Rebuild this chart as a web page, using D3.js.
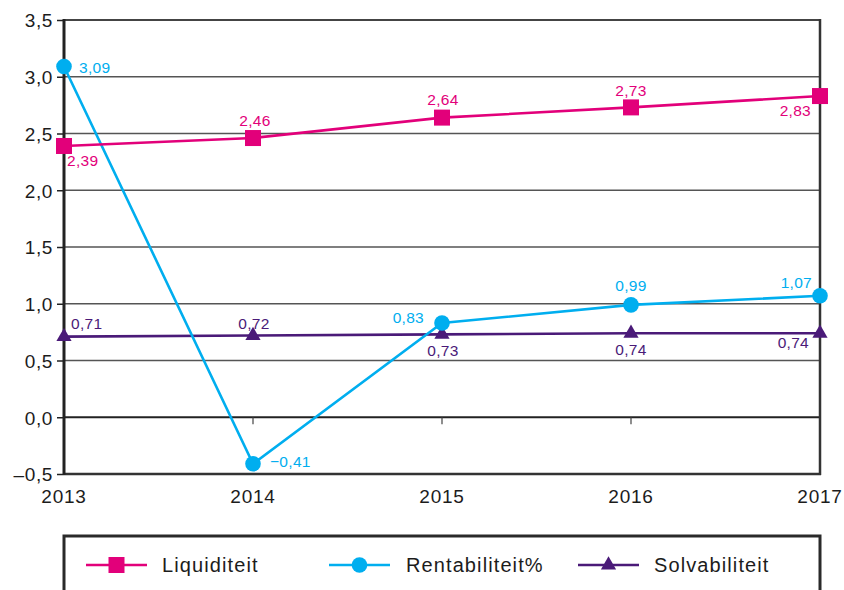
<!DOCTYPE html>
<html><head><meta charset="utf-8">
<script src="https://cdn.jsdelivr.net/npm/d3@7"></script>
<style>body{margin:0;background:#fff}svg{display:block;font-family:"Liberation Sans",Arial,sans-serif}</style>
</head><body>
<svg id="c" width="844" height="590"></svg>
<script>
const years = ["2013","2014","2015","2016","2017"];
const liquiditeit = [2.39, 2.46, 2.64, 2.73, 2.83];
const rentabiliteit = [3.09, -0.41, 0.83, 0.99, 1.07];
const solvabiliteit = [0.71, 0.72, 0.73, 0.74, 0.74];
const yTicks = [-0.5, 0, 0.5, 1.0, 1.5, 2.0, 2.5, 3.0, 3.5];
const seriesNames = ["Liquiditeit", "Rentabiliteit%", "Solvabiliteit"];

// label placement (anchor, dx, dy) per point
const liqPlace = [["start",3,20],["middle",2,-12],["middle",1,-13],["middle",0,-11],["end",-9,20]];
const renPlace = [["start",15,6],["start",17,3],["end",-18,0],["middle",0,-14],["end",-8,-8]];
const solPlace = [["start",7,-8],["middle",1,-7],["middle",1,22],["middle",0,22],["end",-11,15]];

const fmt = v => (v < 0 ? "\u2212" : "") + Math.abs(v).toFixed(2).replace(".", ",");
const fmtTick = v => (v < 0 ? "\u2013" : "") + Math.abs(v).toFixed(1).replace(".", ",");

const svg = d3.select("#c");
const FONT = '"Liberation Sans", Arial, sans-serif';
const L = 64, R = 820, T = 20, B = 474;
const x = d3.scalePoint().domain(years).range([L, R]);
const y = d3.scaleLinear().domain([-0.5, 3.5]).range([B, T]);

const colors = {liq:"#e2007a", ren:"#00aeef", sol:"#4a1a78"};

// gridlines
svg.append("g").selectAll("line").data(yTicks.filter(t => t !== 0 && t !== -0.5 && t !== 3.5)).join("line")
  .attr("x1", L).attr("x2", R).attr("y1", d => y(d)).attr("y2", d => y(d))
  .attr("stroke", "#555").attr("stroke-width", 1.5);
// top border
svg.append("line").attr("x1", L).attr("x2", R).attr("y1", y(3.5)).attr("y2", y(3.5)).attr("stroke","#444").attr("stroke-width",2);
// zero line
svg.append("line").attr("x1", L).attr("x2", R).attr("y1", y(0)).attr("y2", y(0)).attr("stroke","#222").attr("stroke-width",2);
// bottom
svg.append("line").attr("x1", L).attr("x2", R+1).attr("y1", y(-0.5)).attr("y2", y(-0.5)).attr("stroke","#333").attr("stroke-width",2.5);
// right border
svg.append("line").attr("x1", R).attr("x2", R).attr("y1", T-1).attr("y2", B+1).attr("stroke","#333").attr("stroke-width",2.5);

// y axis
const yAxis = d3.axisLeft(y).tickValues(yTicks).tickFormat(fmtTick).tickSize(7).tickPadding(4);
const ya = svg.append("g").attr("transform", `translate(${L},0)`).call(yAxis).attr("font-family", FONT);
ya.select(".domain").attr("stroke","#222").attr("stroke-width",3).attr("d", `M0,${T-1}V${B+1}`);
ya.selectAll(".tick line").attr("stroke","#222").attr("stroke-width",1.5);
ya.selectAll(".tick text").attr("fill","#1c1c1c").style("font-size","19px").style("letter-spacing","0.6px").attr("dy","0.36em");

// x tick marks at zero line
svg.append("g").selectAll("line").data(years.slice(1, -1)).join("line")
  .attr("x1", d => x(d)).attr("x2", d => x(d)).attr("y1", y(0)).attr("y2", y(0) + 7)
  .attr("stroke", "#444").attr("stroke-width", 1.2);

// x labels
svg.append("g").selectAll("text").data(years).join("text")
  .attr("x", d => x(d)).attr("y", 503).attr("text-anchor","middle")
  .attr("fill","#1c1c1c").style("font-size","19px").style("letter-spacing","0.8px").text(d => d);

const line = d3.line().x((d,i) => x(years[i])).y(d => y(d));

function drawSeries(vals, color, place, marker) {
  const g = svg.append("g");
  g.append("path").datum(vals).attr("d", line).attr("fill","none").attr("stroke", color).attr("stroke-width", 2.6);
  const pts = g.selectAll("g.pt").data(vals).join("g").attr("transform", (d,i) => `translate(${x(years[i])},${y(d)})`);
  marker(pts, color);
  g.selectAll("text").data(vals).join("text")
    .attr("x", (d,i) => x(years[i]) + place[i][1]).attr("y", (d,i) => y(d) + place[i][2])
    .attr("text-anchor", (d,i) => place[i][0]).attr("fill", color)
    .style("font-size","15.5px").style("letter-spacing","0.3px").text(fmt);
}
const squareM = (sel, c) => sel.append("rect").attr("x",-8).attr("y",-8).attr("width",16).attr("height",16).attr("fill",c);
const circleM = (sel, c) => sel.append("circle").attr("r",7.8).attr("fill",c);
const triM = (sel, c) => sel.append("path").attr("d", d3.symbol(d3.symbolTriangle, 100)()).attr("fill",c);

drawSeries(solvabiliteit, colors.sol, solPlace, triM);
drawSeries(rentabiliteit, colors.ren, renPlace, circleM);
drawSeries(liquiditeit, colors.liq, liqPlace, squareM);

// legend
svg.append("rect").attr("x", L).attr("y", 536).attr("width", R - L).attr("height", 80)
  .attr("fill","none").attr("stroke","#2a2a2a").attr("stroke-width",3);
const legendItems = [
  {name: seriesNames[0], color: colors.liq, m: squareM, x0: 86, tx: 162},
  {name: seriesNames[1], color: colors.ren, m: circleM, x0: 329, tx: 406},
  {name: seriesNames[2], color: colors.sol, m: triM, x0: 578, tx: 654}
];
const lg = svg.append("g").selectAll("g").data(legendItems).join("g");
lg.append("line").attr("x1", d => d.x0).attr("x2", d => d.x0 + 61).attr("y1", 565).attr("y2", 565)
  .attr("stroke", d => d.color).attr("stroke-width", 2.6);
lg.each(function(d){ const s = d3.select(this).append("g").attr("transform", `translate(${d.x0+30.5},565)`); d.m(s, d.color); });
lg.append("text").attr("x", d => d.tx).attr("y", 572).attr("fill","#1c1c1c")
  .style("font-size","20px").style("letter-spacing","1.1px").text(d => d.name);
</script>
</body></html>
